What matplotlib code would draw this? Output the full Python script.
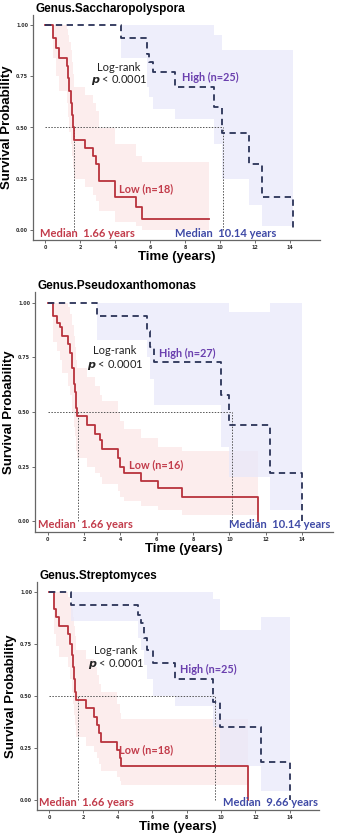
import matplotlib
matplotlib.use('Agg')
import matplotlib.pyplot as plt

# ---- panel 1: Genus.Saccharopolyspora ----
p1_low_t = [0, 0.45, 0.6, 0.8, 1.22, 1.3, 1.38, 1.45, 1.52, 1.58, 1.64, 2.27, 2.75, 2.9, 3.05, 4.0, 5.2, 5.5]
p1_low_s = [1.0, 0.94, 0.89, 0.84, 0.80, 0.74, 0.68, 0.62, 0.56, 0.50, 0.44, 0.40, 0.36, 0.32, 0.24, 0.16, 0.11, 0.055]
p1_low_hi = [1.0, 1.0, 1.0, 1.0, 0.98, 0.95, 0.92, 0.88, 0.82, 0.76, 0.70, 0.66, 0.62, 0.58, 0.50, 0.42, 0.36, 0.33]
p1_low_lo = [1.0, 0.84, 0.75, 0.68, 0.62, 0.55, 0.48, 0.42, 0.36, 0.30, 0.25, 0.21, 0.17, 0.14, 0.09, 0.04, 0.02, 0.0]
p1_low_end = 9.35
p1_high_t = [0, 4.31, 5.8, 5.95, 6.15, 7.42, 9.62, 10.1, 11.62, 12.39, 14.14]
p1_high_s = [1.0, 0.94, 0.86, 0.82, 0.77, 0.70, 0.60, 0.475, 0.32, 0.16, 0.0]
p1_high_hi = [1.0, 1.0, 1.0, 1.0, 1.0, 1.0, 0.95, 0.88, 0.88, 0.88, 0.0]
p1_high_lo = [1.0, 0.84, 0.70, 0.65, 0.59, 0.54, 0.42, 0.25, 0.12, 0.02, 0.0]
p1_high_end = 14.14

# ---- panel 2: Genus.Pseudoxanthomonas ----
p2_low_t = [0, 0.28, 0.5, 0.65, 0.78, 1.1, 1.25, 1.35, 1.42, 1.5, 1.55, 1.6, 2.15, 2.58, 2.85, 3.0,
            3.87, 4.0, 4.2, 5.16, 6.08, 7.37, 11.55]
p2_low_s = [1.0, 0.94, 0.91, 0.89, 0.85, 0.81, 0.77, 0.70, 0.63, 0.59, 0.52, 0.48, 0.44, 0.40, 0.37, 0.33,
            0.29, 0.25, 0.22, 0.185, 0.15, 0.11, 0.0]
p2_low_hi = [1.0, 1.0, 1.0, 1.0, 1.0, 0.98, 0.95, 0.90, 0.85, 0.80, 0.74, 0.70, 0.66, 0.62, 0.58, 0.55,
             0.50, 0.46, 0.42, 0.38, 0.34, 0.32, 0.0]
p2_low_lo = [1.0, 0.82, 0.78, 0.74, 0.68, 0.62, 0.58, 0.50, 0.43, 0.39, 0.32, 0.29, 0.25, 0.22, 0.20, 0.17,
             0.14, 0.11, 0.09, 0.07, 0.05, 0.03, 0.0]
p2_low_end = 11.55
p2_high_t = [0, 2.72, 5.45, 5.65, 5.84, 9.52, 10.0, 12.25, 14.0]
p2_high_s = [1.0, 0.94, 0.87, 0.80, 0.73, 0.58, 0.44, 0.22, 0.0]
p2_high_hi = [1.0, 1.0, 1.0, 1.0, 1.0, 1.0, 0.96, 1.0, 0.0]
p2_high_lo = [1.0, 0.83, 0.75, 0.65, 0.53, 0.34, 0.20, 0.05, 0.0]
p2_high_end = 14.0

# ---- panel 3: Genus.Streptomyces ----
p3_low_t = [0, 0.29, 0.43, 0.58, 1.1, 1.24, 1.33, 1.4, 1.46, 1.52, 1.59, 2.13, 2.6, 2.8, 2.92, 3.05,
            3.95, 4.1, 4.2, 11.57]
p3_low_s = [1.0, 0.92, 0.88, 0.84, 0.80, 0.75, 0.70, 0.64, 0.58, 0.52, 0.48, 0.44, 0.40, 0.36, 0.32, 0.28,
            0.24, 0.20, 0.16, 0.0]
p3_low_hi = [1.0, 1.0, 1.0, 1.0, 0.98, 0.95, 0.92, 0.88, 0.84, 0.79, 0.72, 0.68, 0.64, 0.60, 0.56, 0.52,
             0.46, 0.42, 0.39, 0.0]
p3_low_lo = [1.0, 0.80, 0.74, 0.69, 0.64, 0.58, 0.52, 0.46, 0.41, 0.36, 0.30, 0.26, 0.23, 0.20, 0.17, 0.14,
             0.11, 0.09, 0.07, 0.0]
p3_low_end = 11.57
p3_high_t = [0, 1.26, 5.17, 5.37, 5.5, 5.7, 6.05, 7.3, 9.53, 9.96, 12.3, 14.0]
p3_high_s = [1.0, 0.94, 0.89, 0.85, 0.78, 0.72, 0.66, 0.58, 0.47, 0.35, 0.18, 0.0]
p3_high_hi = [1.0, 1.0, 1.0, 1.0, 1.0, 1.0, 1.0, 1.0, 0.97, 0.82, 0.88, 0.0]
p3_high_lo = [1.0, 0.86, 0.78, 0.72, 0.65, 0.58, 0.50, 0.45, 0.35, 0.16, 0.04, 0.0]
p3_high_end = 14.0

titles = ['Genus.Saccharopolyspora', 'Genus.Pseudoxanthomonas', 'Genus.Streptomyces']
n_low = [18, 16, 18]
n_high = [25, 27, 25]
median_low = [1.66, 1.66, 1.66]
median_high = [10.14, 10.14, 9.66]

RED = '#b8323c'
NAVY = '#2b3358'
RED_TXT = '#c23b4a'
BLUE_TXT = '#3f4aa6'
PURPLE_TXT = '#6a3fae'
ANN_FONT = ['Lato', 'DejaVu Sans']


def steps(t, s, end):
    return list(t) + [end], list(s) + [s[-1]]


def km_panel(ax, low, high, title, nl, nh, med_l, med_h, txt, title_pad):
    lt, ls, lhi, llo, lend = low
    ht, hs, hhi, hlo, hend = high

    # confidence bands
    x, _ = steps(lt, ls, lend)
    ax.fill_between(x, list(llo) + [llo[-1]], list(lhi) + [lhi[-1]], step='post',
                    color='#fce6e6', alpha=0.7, lw=0, zorder=1)
    x, _ = steps(ht, hs, hend)
    ax.fill_between(x, list(hlo) + [hlo[-1]], list(hhi) + [hhi[-1]], step='post',
                    color='#e8e8fa', alpha=0.7, lw=0, zorder=1)

    # median reference lines
    ax.plot([0, med_h], [0.5, 0.5], ls=(0, (1.5, 1.5)), color='#555555', lw=0.7, zorder=2)
    ax.plot([med_l, med_l], [0, 0.5], ls=(0, (1.5, 1.5)), color='#555555', lw=0.7, zorder=2)
    ax.plot([med_h, med_h], [0, 0.5], ls=(0, (1.5, 1.5)), color='#555555', lw=0.7, zorder=2)

    # curves
    x, y = steps(lt, ls, lend)
    ax.plot(x, y, drawstyle='steps-post', color=RED, lw=1.3, zorder=3)
    x, y = steps(ht, hs, hend)
    ax.plot(x, y, drawstyle='steps-post', color=NAVY, lw=1.3, ls=(0, (3.5, 2.5)), zorder=3)

    # annotations
    lr, hi_pos, lo_pos, ml_pos, mh_pos = txt
    ax.text(lr[0], lr[1], 'Log-rank', ha='center', va='center', fontsize=8,
            family=ANN_FONT, color='#222222')
    ax.text(lr[0], lr[1] - 0.065, r'$\mathbfit{p}$ < 0.0001', ha='center', va='center',
            fontsize=8, family=ANN_FONT, color='#222222')
    ax.text(hi_pos[0], hi_pos[1], f'High (n={nh})', ha='left', va='center', fontsize=7.8,
            family=ANN_FONT, weight='bold', color=PURPLE_TXT)
    ax.text(lo_pos[0], lo_pos[1], f'Low (n={nl})', ha='left', va='center', fontsize=7.8,
            family=ANN_FONT, weight='bold', color=RED_TXT)
    ax.text(ml_pos[0], ml_pos[1], f'Median  {med_l:.2f} years', ha='left', va='center',
            fontsize=8, family=ANN_FONT, weight='bold', color=RED_TXT)
    ax.text(mh_pos[0], mh_pos[1], f'Median  {med_h:.2f} years', ha='left', va='center',
            fontsize=8, family=ANN_FONT, weight='bold', color=BLUE_TXT)

    ax.set_xlim(-0.7, 15.7)
    ax.set_ylim(-0.05, 1.05)
    ax.set_xticks(range(0, 15, 2))
    ax.set_yticks([0, 0.25, 0.5, 0.75, 1.0])
    ax.set_yticklabels(['0.00', '0.25', '0.50', '0.75', '1.00'])
    ax.tick_params(axis='both', labelsize=3.5, length=2, width=0.6, color='#555555',
                   labelcolor='#333333', pad=1.5)
    for lab in ax.get_xticklabels() + ax.get_yticklabels():
        lab.set_fontweight('bold')
    for side in ['top', 'right']:
        ax.spines[side].set_visible(False)
    for side in ['left', 'bottom']:
        ax.spines[side].set_color('#666666')
        ax.spines[side].set_linewidth(0.9)
    ax.set_xlabel('Time (years)', fontsize=9.5, weight='bold', family=['Liberation Sans'], labelpad=1)
    ax.set_ylabel('Survival Probability', fontsize=9.5, weight='bold', family=['Liberation Sans'],
                  labelpad=2)
    ax.set_title(title, loc='left', fontsize=8.5, weight='bold', family=['Liberation Sans'],
                 pad=title_pad, x=0.01)


W, H = 337, 835
fig = plt.figure(figsize=(W / 100, H / 100), dpi=100)

# axes boxes in pixels: left, top, right, bottom
boxes = [(33, 15, 320, 240), (35, 292, 333, 532), (37, 582, 319, 810)]
title_pads = [1.5, 0.5, 2.5]
axes = []
for l, t, r, b in boxes:
    axes.append(fig.add_axes([l / W, 1 - b / H, (r - l) / W, (b - t) / H]))

lows = [(p1_low_t, p1_low_s, p1_low_hi, p1_low_lo, p1_low_end),
        (p2_low_t, p2_low_s, p2_low_hi, p2_low_lo, p2_low_end),
        (p3_low_t, p3_low_s, p3_low_hi, p3_low_lo, p3_low_end)]
highs = [(p1_high_t, p1_high_s, p1_high_hi, p1_high_lo, p1_high_end),
         (p2_high_t, p2_high_s, p2_high_hi, p2_high_lo, p2_high_end),
         (p3_high_t, p3_high_s, p3_high_hi, p3_high_lo, p3_high_end)]
# text anchors: log-rank, high label, low label, median low, median high
txts = [((4.2, 0.795), (7.8, 0.745), (4.24, 0.20), (-0.3, -0.02), (7.4, -0.02)),
        ((3.7, 0.78), (6.1, 0.77), (4.48, 0.26), (-0.55, -0.017), (10.0, -0.017)),
        ((3.9, 0.72), (7.6, 0.63), (4.07, 0.24), (-0.58, -0.016), (10.1, -0.016))]

for i, ax in enumerate(axes):
    km_panel(ax, lows[i], highs[i], titles[i], n_low[i], n_high[i],
             median_low[i], median_high[i], txts[i], title_pads[i])

fig.savefig('out.png', dpi=100, facecolor='white')
